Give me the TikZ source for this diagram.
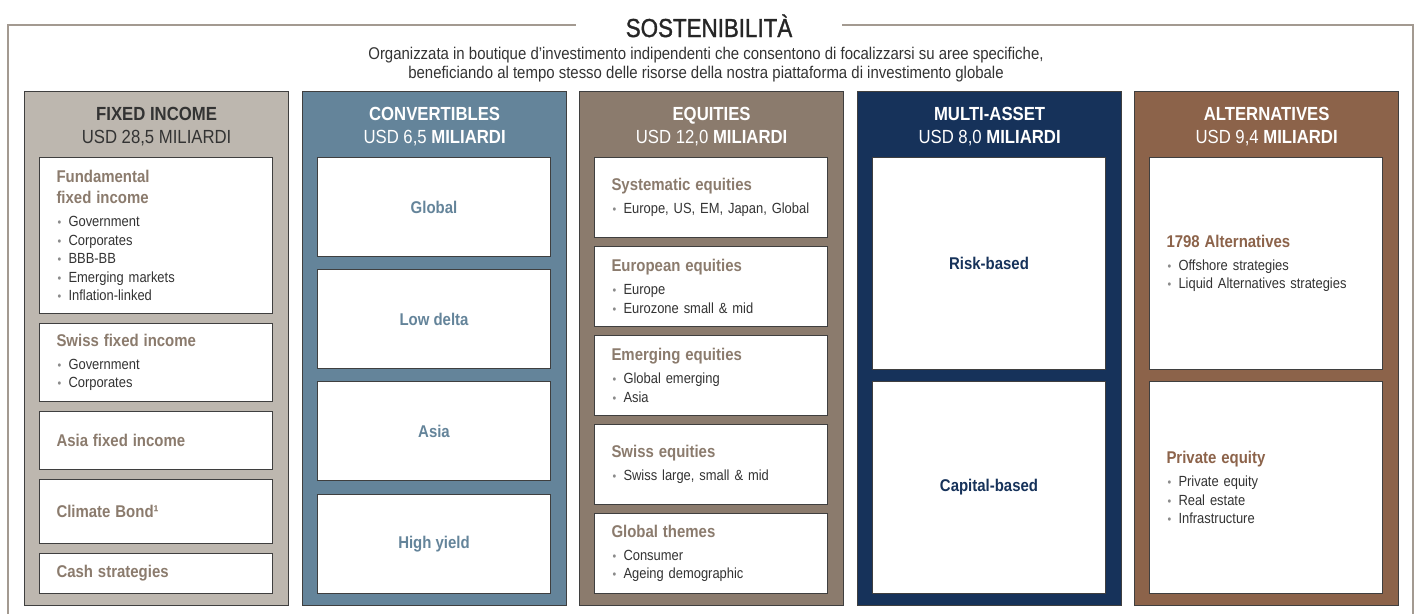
\documentclass[tikz,border=0pt]{standalone}
\usepackage{fontspec}
\setmainfont[FakeStretch=0.88]{Liberation Sans}
\newfontfamily\titlefont[FakeStretch=0.86,FakeBold=1.2]{Liberation Sans}
\usepackage{tikz}
\definecolor{ficol}{HTML}{BDB7AF}
\definecolor{cvcol}{HTML}{64849A}
\definecolor{eqcol}{HTML}{8B7B6D}
\definecolor{macol}{HTML}{16325A}
\definecolor{alcol}{HTML}{8C634A}
\definecolor{edgegray}{HTML}{3F3F3F}
\definecolor{framegray}{HTML}{A39A91}
\definecolor{bodygray}{HTML}{333333}
\definecolor{dotgray}{HTML}{8A8A8A}
\newcommand{\hd}[1]{{\color{hc}\fontsize{17}{21}\selectfont\bfseries #1}}
\newcommand{\bl}[1]{\hspace*{1pt}\makebox[11pt][l]{\color{dotgray}\fontsize{12}{12}\selectfont •}#1}
\tikzset{
  frame/.style={draw=framegray, line width=1.6pt},
  titletext/.style={anchor=base, inner xsep=50pt, text=black!85, font=\titlefont\fontsize{26}{30}\selectfont},
  subtext/.style={anchor=north, align=center, inner sep=0pt, text=bodygray, font=\fontsize{17}{19}\selectfont},
  colbox/.style={draw=edgegray, line width=1.2pt, anchor=north west, minimum width=264pt, minimum height=514pt, inner sep=0pt},
  colhead/.style={anchor=base, inner sep=0pt, text=white, font=\fontsize{19}{23}\selectfont},
  subbox/.style={draw=edgegray, line width=1pt, fill=white, anchor=north west, minimum width=233pt, inner xsep=17pt, inner ysep=0pt, text width=199pt, align=left, text=bodygray, font=\fontsize{14.7}{18.5}\selectfont},
  midbox/.style={draw=edgegray, line width=1pt, fill=white, anchor=north west, minimum width=233pt, inner sep=0pt, font=\fontsize{17}{21}\selectfont\bfseries},
  fibox/.style={subbox, execute at begin node={\colorlet{hc}{eqcol}}},
  eqbox/.style={subbox, execute at begin node={\colorlet{hc}{eqcol}}},
  albox/.style={subbox, execute at begin node={\colorlet{hc}{alcol}}},
  cvbox/.style={midbox, text=cvcol},
  mabox/.style={midbox, text=macol}
}
\begin{document}
\begin{tikzpicture}[x=1pt,y=-1pt]
\useasboundingbox (0,0) rectangle (1418,614);
\coordinate (ftop) at (0,25);
% title and frame
\node[titletext] (title) at (709,37) {SOSTENIBILITÀ};
\draw[frame] (title.west |- ftop) -- (8,25) -- (8,614);
\draw[frame] (title.east |- ftop) -- (1413,25) -- (1413,614);
\node[subtext] (sub) at (706,47) {Organizzata in boutique d'investimento indipendenti che consentono di focalizzarsi su aree specifiche,\\beneficiando al tempo stesso delle risorse della nostra piattaforma di investimento globale};

% columns
\node[colbox, fill=ficol] (fi) at (24,91) {};
\node[colbox, fill=cvcol] (cv) at (302,91) {};
\node[colbox, fill=eqcol] (eq) at (579,91) {};
\node[colbox, fill=macol] (ma) at (857,91) {};
\node[colbox, fill=alcol] (al) at (1134,91) {};

\node[colhead, text=bodygray] (fititle) at ([yshift=-29pt]fi.north) {\textbf{FIXED INCOME}};
\node[colhead, text=bodygray] (fiusd) at ([yshift=-52pt]fi.north) {USD 28,5 MILIARDI};
\node[colhead] (cvtitle) at ([yshift=-29pt]cv.north) {\textbf{CONVERTIBLES}};
\node[colhead] (cvusd) at ([yshift=-52pt]cv.north) {USD 6,5 \textbf{MILIARDI}};
\node[colhead] (eqtitle) at ([yshift=-29pt]eq.north) {\textbf{EQUITIES}};
\node[colhead] (equsd) at ([yshift=-52pt]eq.north) {USD 12,0 \textbf{MILIARDI}};
\node[colhead] (matitle) at ([yshift=-29pt]ma.north) {\textbf{MULTI-ASSET}};
\node[colhead] (mausd) at ([yshift=-52pt]ma.north) {USD 8,0 \textbf{MILIARDI}};
\node[colhead] (altitle) at ([yshift=-29pt]al.north) {\textbf{ALTERNATIVES}};
\node[colhead] (alusd) at ([yshift=-52pt]al.north) {USD 9,4 \textbf{MILIARDI}};

% fixed income
\node[fibox, minimum height=156pt] (fi1) at (39,157) {\hd{Fundamental}\\[2.5pt]\hd{fixed income}\\[4.5pt]\bl{Government}\\\bl{Corporates}\\\bl{BBB-BB}\\\bl{Emerging markets}\\\bl{Inflation-linked}};
\node[fibox, minimum height=78pt] (fi2) at (39,323) {\hd{Swiss fixed income}\\[4.5pt]\bl{Government}\\\bl{Corporates}};
\node[fibox, minimum height=58pt] (fi3) at (39,411) {\hd{Asia fixed income}};
\node[fibox, minimum height=64pt] (fi4) at (39,479) {\hd{Climate Bond¹}};
\node[fibox, minimum height=40pt] (fi5) at (39,553) {\hd{Cash strategies}};

% convertibles
\node[cvbox, minimum height=99pt] (cv1) at (317,157) {Global};
\node[cvbox, minimum height=99pt] (cv2) at (317,269) {Low delta};
\node[cvbox, minimum height=99pt] (cv3) at (317,381) {Asia};
\node[cvbox, minimum height=99pt] (cv4) at (317,494) {High yield};

% equities
\node[eqbox, minimum height=80pt] (eq1) at (594,157) {\hd{Systematic equities}\\[4.5pt]\bl{Europe, US, EM, Japan, Global}};
\node[eqbox, minimum height=80pt] (eq2) at (594,246) {\hd{European equities}\\[4.5pt]\bl{Europe}\\\bl{Eurozone small \& mid}};
\node[eqbox, minimum height=80pt] (eq3) at (594,335) {\hd{Emerging equities}\\[4.5pt]\bl{Global emerging}\\\bl{Asia}};
\node[eqbox, minimum height=80pt] (eq4) at (594,424) {\hd{Swiss equities}\\[4.5pt]\bl{Swiss large, small \& mid}};
\node[eqbox, minimum height=80pt] (eq5) at (594,513) {\hd{Global themes}\\[4.5pt]\bl{Consumer}\\\bl{Ageing demographic}};

% multi-asset
\node[mabox, minimum height=212pt] (ma1) at (872,157) {Risk-based};
\node[mabox, minimum height=212pt] (ma2) at (872,381) {Capital-based};

% alternatives
\node[albox, minimum height=212pt] (al1) at (1149,157) {\hd{1798 Alternatives}\\[4.5pt]\bl{Offshore strategies}\\\bl{Liquid Alternatives strategies}};
\node[albox, minimum height=212pt] (al2) at (1149,381) {\hd{Private equity}\\[4.5pt]\bl{Private equity}\\\bl{Real estate}\\\bl{Infrastructure}};
\end{tikzpicture}
\end{document}
